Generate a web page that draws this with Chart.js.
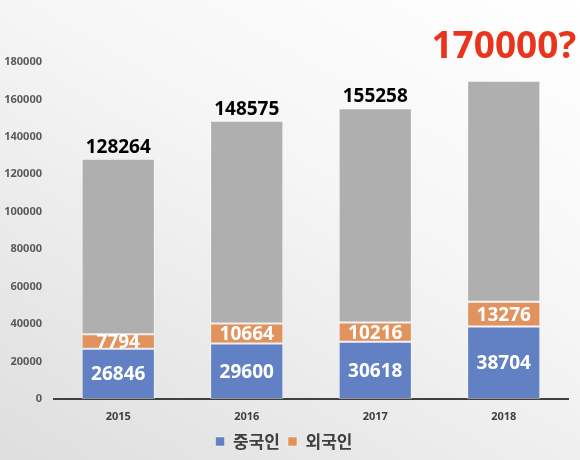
<!DOCTYPE html>
<html>
<head>
<meta charset="utf-8">
<script src="https://cdn.jsdelivr.net/npm/chart.js@4.4.1/dist/chart.umd.min.js"></script>
<style>
  html, body { margin: 0; padding: 0; }
  body {
    width: 580px; height: 460px; overflow: hidden;
    background: linear-gradient(210deg, #ffffff 0%, #f6f6f6 40%, #dedede 100%);
  }
  canvas { display: block; }
</style>
</head>
<body>
<canvas id="chart" width="580" height="460"></canvas>
<script>
const years = ["2015", "2016", "2017", "2018"];
const chinese = [26846, 29600, 30618, 38704];
const foreign = [7794, 10664, 10216, 13276];
const totals = [128264, 148575, 155258, 170000];
const totalLabels = ["128264", "148575", "155258", "170000?"];
const yMax = 180000;
const yStep = 20000;

// grey part = what is left of the total above the two coloured segments
const rest = totals.map((t, i) => t - chinese[i] - foreign[i]);

const numFont = '"Noto Sans", "Open Sans", sans-serif';
const krFont = '"Noto Sans CJK KR", "Noto Sans", sans-serif';

const valueLabels = {
    id: "valueLabels",
    afterDatasetsDraw(chart) {
        const ctx = chart.ctx;
        ctx.save();
        ctx.textAlign = "center";
        [0, 1].forEach(di => {
            const meta = chart.getDatasetMeta(di);
            meta.data.forEach((bar, i) => {
                const v = chart.data.datasets[di].data[i];
                const y = (bar.y + bar.base) / 2;
                ctx.fillStyle = "#ffffff";
                ctx.font = "bold 19px " + numFont;
                ctx.textBaseline = "middle";
                ctx.fillText(String(v), bar.x, y + 1);
            });
        });
        const top = chart.getDatasetMeta(2);
        top.data.forEach((bar, i) => {
            const last = i === totals.length - 1;
            ctx.textBaseline = "bottom";
            if (last) {
                ctx.fillStyle = "#e8341c";
                ctx.font = "bold 37px " + numFont;
                ctx.fillText(totalLabels[i], bar.x, bar.y - 15);
            } else {
                ctx.fillStyle = "#000000";
                ctx.font = "bold 19px " + numFont;
                ctx.fillText(totalLabels[i], bar.x, bar.y - 2);
            }
        });
        ctx.restore();
    }
};

new Chart(document.getElementById("chart"), {
    type: "bar",
    data: {
        labels: years,
        datasets: [
            {
                label: "중국인",
                data: chinese,
                backgroundColor: "#6181c4",
                borderColor: "rgba(255,255,255,0.45)",
                borderWidth: 1,
                borderSkipped: false,
            },
            {
                label: "외국인",
                data: foreign,
                backgroundColor: "#e2925c",
                borderColor: "rgba(255,255,255,0.45)",
                borderWidth: 1,
                borderSkipped: false,
            },
            {
                label: "total",
                data: rest,
                backgroundColor: "#afafaf",
                borderColor: "rgba(255,255,255,0.45)",
                borderWidth: 1,
                borderSkipped: false,
            },
        ],
    },
    options: {
        responsive: false,
        animation: false,
        devicePixelRatio: 1,
        layout: { padding: { top: 62, right: 12, bottom: 0, left: 0 } },
        datasets: { bar: { categoryPercentage: 1, barPercentage: 0.57 } },
        scales: {
            x: {
                stacked: true,
                grid: { display: false, drawTicks: false },
                border: { display: true, color: "#404040", width: 2 },
                ticks: {
                    color: "#404040",
                    font: { family: numFont, size: 11, weight: "bold" },
                    padding: 11,
                },
                afterFit: s => { s.height = 26; },
            },
            y: {
                stacked: true,
                min: 0,
                max: yMax,
                grid: { display: false, drawTicks: false },
                border: { display: false },
                ticks: {
                    stepSize: yStep,
                    color: "#595959",
                    font: { family: numFont, size: 11, weight: "bold" },
                    padding: 12,
                    callback: v => String(v),
                },
                afterFit: s => { s.width = 54; },
            },
        },
        plugins: {
            legend: {
                position: "bottom",
                labels: {
                    filter: item => item.datasetIndex < 2,
                    boxWidth: 9,
                    boxHeight: 9,
                    color: "#404040",
                    font: { family: krFont, size: 17, weight: "bold" },
                    padding: 8,
                },
            },
            tooltip: { enabled: false },
        },
    },
    plugins: [valueLabels],
});
</script>
</body>
</html>
